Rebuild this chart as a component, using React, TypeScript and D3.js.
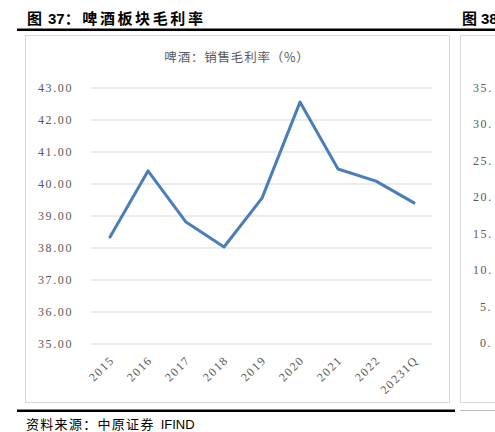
import React from "react";
import * as d3 from "d3";

const categories = ["2015", "2016", "2017", "2018", "2019", "2020", "2021", "2022", "20231Q"];
const grossMargin = [38.34, 40.41, 38.81, 38.03, 39.56, 42.56, 40.47, 40.09, 39.41];
const yTicks = [35, 36, 37, 38, 39, 40, 41, 42, 43];
const rightTicks = ["35.", "30.", "25.", "20.", "15.", "10.", "5.", "0."];

const W = 495;
const H = 432;
const serif = "'Liberation Serif', 'DejaVu Serif', 'Noto Sans CJK SC', serif";
const cjk = "'Noto Sans CJK SC', sans-serif";
const sans = "'Liberation Sans', Arial, sans-serif";

export default function App() {
  const x = d3.scaleBand<string>().domain(categories).range([91, 433]);
  const y = d3.scaleLinear().domain([35, 43]).range([344, 88]);
  const line = d3
    .line<number>()
    .x((_, i) => (x(categories[i]) as number) + x.bandwidth() / 2)
    .y((d) => y(d));
  const yR = d3.scaleLinear().domain([0, 7]).range([343, 88]);

  return (
    <svg width={W} height={H} style={{ position: "absolute", left: 0, top: 0, background: "#fff" }}>
      {/* headings */}
      <text x={27} y={24} fontFamily={cjk} fontWeight="bold" fontSize={15} fill="#000">
        <tspan letterSpacing={2}>图</tspan>
        <tspan fontFamily={sans} dx={4}>37</tspan>
        <tspan letterSpacing={2.6}>：啤酒板块毛利率</tspan>
      </text>
      <text x={462} y={24} fontFamily={cjk} fontWeight="bold" fontSize={15} fill="#000">
        <tspan>图</tspan>
        <tspan fontFamily={sans} dx={4}>38</tspan>
      </text>
      <rect x={17} y={28.5} width={478} height={2.5} fill="#000" />

      {/* chart boxes */}
      <rect x={25.5} y={35.5} width={424} height={367} fill="#fff" stroke="#d9d9d9" strokeWidth={1} />
      <rect x={460.5} y={35.5} width={60} height={367} fill="#fff" stroke="#d9d9d9" strokeWidth={1} />

      {/* chart title */}
      <text x={237} y={62} textAnchor="middle" fontFamily={cjk} fontSize={12.5} letterSpacing={0.8} fill="#595959">
        啤酒：销售毛利率（%）
      </text>

      {/* gridlines + y labels */}
      {yTicks.map((t) => (
        <g key={t}>
          <line x1={91} x2={432} y1={y(t)} y2={y(t)} stroke="#d9d9d9" strokeWidth={1} />
          <text
            x={73}
            y={y(t) + 4}
            textAnchor="end"
            fontFamily={serif}
            fontSize={12}
            letterSpacing={1.6}
            fill="#595959"
          >
            {t.toFixed(2)}
          </text>
        </g>
      ))}

      {/* x labels */}
      {categories.map((c) => {
        const cx = (x(c) as number) + x.bandwidth() / 2 + 5;
        const cy = 361;
        return (
          <text
            key={c}
            x={cx}
            y={cy}
            textAnchor="end"
            transform={`rotate(-45 ${cx} ${cy})`}
            fontFamily={serif}
            fontSize={12}
            letterSpacing={1.5}
            fill="#595959"
          >
            {c}
          </text>
        );
      })}

      {/* line */}
      <path
        d={line(grossMargin) || ""}
        fill="none"
        stroke="#4a7ebb"
        strokeWidth={3}
        strokeLinejoin="round"
        strokeLinecap="round"
      />

      {/* right partial chart labels */}
      {rightTicks.map((t, i) => (
        <text
          key={t}
          x={t.length === 2 ? 480 : 473}
          y={yR(7 - i) + 4}
          fontFamily={serif}
          fontSize={12}
          letterSpacing={1.6}
          fill="#595959"
        >
          {t}
        </text>
      ))}

      {/* bottom rule */}
      <rect x={17} y={409.5} width={438} height={2.5} fill="#000" />
      <line x1={460} x2={495} y1={410.5} y2={410.5} stroke="#bfbfbf" strokeWidth={1} />

      {/* source */}
      <text x={26} y={429} fontFamily={cjk} fontSize={13} fill="#000">
        <tspan letterSpacing={1.3}>资料来源：中原证券</tspan>
        <tspan fontFamily={sans} dx={6}>IFIND</tspan>
      </text>
    </svg>
  );
}
